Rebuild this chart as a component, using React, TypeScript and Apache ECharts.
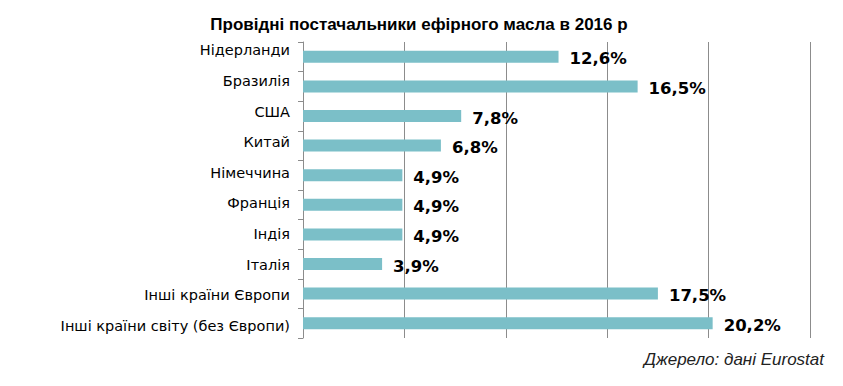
import React, { useEffect, useRef } from "react";
import * as echarts from "echarts";

const categories = [
  "Нідерланди",
  "Бразилія",
  "США",
  "Китай",
  "Німеччина",
  "Франція",
  "Індія",
  "Італія",
  "Інші країни Європи",
  "Інші країни світу (без Європи)",
];
const values = [12.6, 16.5, 7.8, 6.8, 4.9, 4.9, 4.9, 3.9, 17.5, 20.2];
const titleText = "Провідні постачальники ефірного масла в 2016 р";
const sourceText = "Джерело: дані Eurostat";

export default function App() {
  const ref = useRef<HTMLDivElement>(null);
  useEffect(() => {
    document.body.style.margin = "0";
    const chart = echarts.init(ref.current!, null, { renderer: "svg" });
    chart.setOption({
      animation: false,
      backgroundColor: "#ffffff",
      title: {
        text: titleText,
        left: 414,
        textAlign: "center",
        top: 11,
        textStyle: {
          fontFamily: "Liberation Sans",
          fontWeight: "bold",
          fontSize: 17,
          color: "#000",
        },
      },
      grid: [
        { left: 303, right: 33, top: 42, bottom: 48, containLabel: false },
        { left: 303, right: 33, top: 35, bottom: 45, containLabel: false },
      ],
      xAxis: [
        {
          type: "value",
          gridIndex: 0,
          min: 0,
          max: 25,
          interval: 5,
          axisLabel: { show: false },
          axisLine: { show: false },
          axisTick: { show: false },
          splitLine: { show: true, lineStyle: { color: "#8c8c8c", width: 1 } },
        },
        {
          type: "value",
          gridIndex: 1,
          min: 0,
          max: 25,
          show: false,
        },
      ],
      yAxis: [
        {
          type: "category",
          gridIndex: 0,
          data: categories,
          inverse: true,
          axisLine: { show: true, lineStyle: { color: "#8c8c8c", width: 1 } },
          axisTick: { show: true, length: 5, lineStyle: { color: "#8c8c8c" } },
          axisLabel: { show: false },
        },
        {
          type: "category",
          gridIndex: 1,
          data: categories,
          inverse: true,
          axisLine: { show: false },
          axisTick: { show: false },
          splitLine: { show: false },
          axisLabel: {
            margin: 13,
            fontFamily: "DejaVu Sans",
            fontSize: 14.5,
            color: "#000",
          },
        },
      ],
      series: [
        {
          type: "bar",
          xAxisIndex: 0,
          yAxisIndex: 0,
          data: values,
          barWidth: 12,
          itemStyle: { color: "#7bbfc8" },
          label: {
            show: true,
            position: "right",
            distance: 11,
            fontFamily: "DejaVu Sans",
            fontWeight: "bold",
            fontSize: 16.5,
            color: "#000",
            offset: [0, 2],
            formatter: (p: any) => String(p.value).replace(".", ",") + "%",
          },
        },
      ],
      graphic: [
        {
          type: "text",
          right: 19,
          top: 351,
          style: {
            text: sourceText,
            fontFamily: "Liberation Sans",
            fontStyle: "italic",
            fontSize: 17,
            fill: "#222",
          },
        },
      ],
    });
    return () => chart.dispose();
  }, []);
  return (
    <div
      ref={ref}
      style={{ position: "absolute", left: 0, top: 0, width: 843, height: 386 }}
    />
  );
}
